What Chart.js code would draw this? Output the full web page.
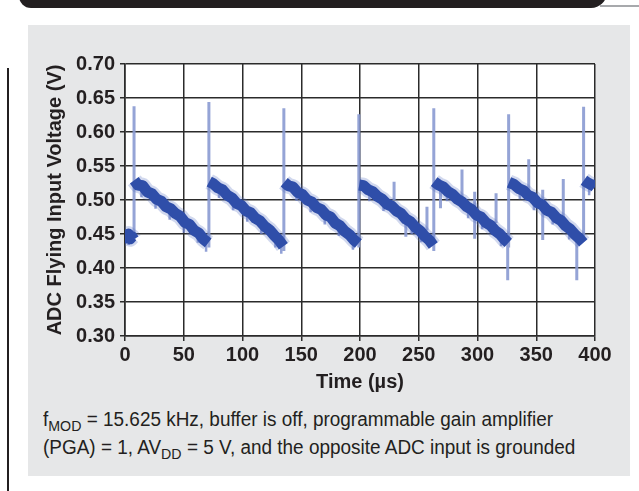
<!DOCTYPE html>
<html>
<head>
<meta charset="utf-8">
<script src="https://cdn.jsdelivr.net/npm/chart.js@4.4.1/dist/chart.umd.min.js"></script>
<style>
  body { margin: 0; background: #fff; width: 639px; height: 491px; overflow: hidden; position: relative; }
  #topbar { position: absolute; left: 19px; top: -30px; width: 588px; height: 38px; background: #231f20; border-radius: 0 0 16px 12px; }
  #topline { position: absolute; left: 600px; top: 5px; width: 39px; height: 2px; background: #a7a9ac; }
  #leftline { position: absolute; left: 7px; top: 68px; width: 2px; height: 423px; background: #231f20; }
  #panel { position: absolute; left: 28px; top: 25px; width: 602px; height: 451px; background: #e6e7e8; }
  #myChart { position: absolute; left: 28px; top: 25px; }
  #cap { position: absolute; left: 43px; top: 405px; font-family: 'Liberation Sans', Arial, sans-serif;
         font-size: 20px; line-height: 28px; color: #231f20; white-space: nowrap; transform-origin: 0 0; }
  #cap sub { font-size: 15px; vertical-align: -5px; line-height: 0; }
</style>
</head>
<body>
<div id="topbar"></div>
<div id="topline"></div>
<div id="leftline"></div>
<div id="panel"></div>
<canvas id="myChart" width="602" height="380"></canvas>
<div id="cap"><span id="cap1">f<sub>MOD</sub> = 15.625 kHz, buffer is off, programmable gain amplifier</span><br>(PGA) = 1, AV<sub>DD</sub> = 5 V, and the opposite ADC input is grounded</div>
<script>
// tiempo (us) y voltaje de la traza, null = corte entre rampas
var traceT = [
  0, 1.5, 3, 4.5, 6, 7.4, 7.6,
  7.9, 11, 15, 19, 23, 27, 31, 35, 39, 43, 47, 51, 55, 59, 63, 67, 70.8, 71,
  71.7, 75, 79, 83, 87, 91, 95, 99, 103, 107, 111, 115, 119, 123, 127, 131, 134.8, 135,
  135.5, 139, 143, 147, 151, 155, 159, 163, 167, 171, 175, 179, 183, 187, 191, 195, 198.6, 198.8,
  199.3, 203, 207, 211, 215, 219, 223, 227, 231, 235, 239, 243, 247, 251, 255, 259, 262.4, 262.6,
  263.1, 267, 271, 275, 279, 283, 287, 291, 295, 299, 303, 307, 311, 315, 319, 323, 326.2, 326.4,
  326.8, 331, 335, 339, 343, 347, 351, 355, 359, 363, 367, 371, 375, 379, 383, 387, 390, 390.2,
  390.6, 393, 396, 398, 400
];
var traceV = [
  0.447, 0.444, 0.450, 0.443, 0.446, 0.442, null,
  0.529, 0.522, 0.521, 0.512, 0.509, 0.501, 0.498, 0.490, 0.487, 0.480, 0.476, 0.467, 0.464, 0.455, 0.451, 0.442, 0.437, null,
  0.527, 0.524, 0.518, 0.515, 0.507, 0.503, 0.495, 0.492, 0.484, 0.481, 0.473, 0.469, 0.461, 0.456, 0.448, 0.441, 0.432, null,
  0.526, 0.521, 0.519, 0.511, 0.508, 0.500, 0.497, 0.489, 0.486, 0.478, 0.475, 0.466, 0.462, 0.454, 0.449, 0.441, 0.436, null,
  0.522, 0.521, 0.515, 0.512, 0.505, 0.501, 0.494, 0.491, 0.484, 0.480, 0.472, 0.468, 0.460, 0.455, 0.447, 0.441, 0.433, null,
  0.527, 0.522, 0.519, 0.512, 0.508, 0.501, 0.497, 0.490, 0.486, 0.478, 0.475, 0.467, 0.463, 0.455, 0.450, 0.442, 0.437, null,
  0.526, 0.523, 0.517, 0.514, 0.507, 0.504, 0.496, 0.493, 0.485, 0.482, 0.474, 0.470, 0.462, 0.457, 0.449, 0.443, 0.437, null,
  0.529, 0.526, 0.523, 0.522, 0.519
];

// picos (glitches): tiempo, inicio y fin
var spikeT    = [7.7, 71.4, 135.2, 199, 229, 239, 257, 262.8, 268.5, 286.8, 297.6, 315.8, 325.7, 326.5, 343.6, 355.5, 373, 384.5, 390.3];
var spikeFrom = [0.440, 0.430, 0.425, 0.430, 0.500, 0.470, 0.490, 0.425, 0.520, 0.500, 0.512, 0.510, 0.440, 0.430, 0.510, 0.515, 0.531, 0.455, 0.440];
var spikeTo   = [0.638, 0.644, 0.635, 0.626, 0.527, 0.446, 0.455, 0.635, 0.488, 0.545, 0.443, 0.466, 0.382, 0.626, 0.560, 0.441, 0.470, 0.382, 0.637];

// ruido corto alrededor de la banda
var noiseT    = [3, 14, 26, 38, 50, 62, 69, 80, 92, 104, 116, 128, 133, 146, 158, 170, 182, 194, 208, 220, 244, 252, 274, 292, 304, 320, 336, 348, 364, 378, 395];
var noiseFrom = [0.450, 0.521, 0.503, 0.488, 0.469, 0.452, 0.440, 0.518, 0.501, 0.484, 0.467, 0.446, 0.437, 0.514, 0.498, 0.481, 0.463, 0.443, 0.514, 0.500, 0.466, 0.454, 0.514, 0.489, 0.473, 0.448, 0.517, 0.501, 0.480, 0.458, 0.523];
var noiseTo   = [0.434, 0.504, 0.487, 0.471, 0.452, 0.437, 0.424, 0.503, 0.485, 0.468, 0.450, 0.430, 0.421, 0.499, 0.482, 0.464, 0.447, 0.427, 0.498, 0.484, 0.450, 0.438, 0.498, 0.473, 0.457, 0.432, 0.501, 0.485, 0.464, 0.442, 0.507];

var yTicks = [0.30, 0.35, 0.40, 0.45, 0.50, 0.55, 0.60, 0.65, 0.70];
var xTicks = [0, 50, 100, 150, 200, 250, 300, 350, 400];

// pie de figura: comprimir a lo ancho como la letra condensada
var cap = document.querySelector('#cap');
var w1 = document.querySelector('#cap1').getBoundingClientRect().width;
cap.style.transform = 'scaleX(' + (510 / w1) + ')';

var tracePts = traceT.map(function (t, i) { return { x: t, y: traceV[i] }; });
function strokes(ts, from, to) {
  var pts = [];
  ts.forEach(function (t, i) {
    pts.push({ x: t, y: from[i] });
    pts.push({ x: t, y: to[i] });
    pts.push({ x: t, y: null });
  });
  return pts;
}
var spikePts = strokes(spikeT, spikeFrom, spikeTo);
var noisePts = strokes(noiseT, noiseFrom, noiseTo);

var plotBg = {
  id: 'plotBg',
  beforeDraw: function (chart) {
    var a = chart.chartArea, ctx = chart.ctx;
    ctx.save();
    ctx.fillStyle = '#ffffff';
    ctx.fillRect(a.left, a.top, a.right - a.left, a.bottom - a.top);
    ctx.restore();
  }
};

var tickFont = { family: "'Liberation Sans', Arial, sans-serif", size: 20, weight: 'bold' };

var ctx = document.getElementById('myChart').getContext('2d');
var chart = new Chart(ctx, {
  type: 'scatter',
  data: {
    datasets: [
      { data: tracePts, showLine: true, borderColor: '#2f4ea9', borderWidth: 11, pointRadius: 0,
        borderJoinStyle: 'round', borderCapStyle: 'butt', spanGaps: false, order: 1 },
      { data: tracePts, showLine: true, borderColor: 'rgba(90,115,195,0.28)', borderWidth: 16, pointRadius: 0,
        borderJoinStyle: 'round', spanGaps: false, order: 2 },
      { data: noisePts, showLine: true, borderColor: 'rgba(110,130,200,0.75)', borderWidth: 2.5, pointRadius: 0,
        spanGaps: false, order: 3 },
      { data: spikePts, showLine: true, borderColor: 'rgba(138,154,210,0.9)', borderWidth: 3, pointRadius: 0,
        spanGaps: false, order: 4 }
    ]
  },
  options: {
    responsive: false,
    animation: false,
    devicePixelRatio: 1,
    layout: { padding: { top: 39, right: 35, left: 0, bottom: 0 } },
    plugins: { legend: { display: false }, tooltip: { enabled: false } },
    scales: {
      x: {
        type: 'linear', min: 0, max: 400,
        afterFit: function (s) { s.height = 69; },
        afterBuildTicks: function (s) { s.ticks = xTicks.map(function (v) { return { value: v }; }); },
        grid: { color: '#2b2b2b', lineWidth: 1.5, tickLength: 5, drawTicks: true },
        border: { color: '#2b2b2b', width: 1.6 },
        ticks: { color: '#231f20', font: tickFont, padding: 2, maxRotation: 0 },
        title: { display: true, text: 'Time (µs)', color: '#231f20', font: tickFont, padding: { top: 0, bottom: 11 } }
      },
      y: {
        min: 0.3, max: 0.7,
        afterFit: function (s) { s.width = 97; },
        afterBuildTicks: function (s) { s.ticks = yTicks.map(function (v) { return { value: v }; }); },
        grid: { color: '#2b2b2b', lineWidth: 1.5, tickLength: 5, drawTicks: true },
        border: { color: '#2b2b2b', width: 1.6 },
        ticks: { color: '#231f20', font: tickFont, padding: 5, callback: function (v) { return v.toFixed(2); } },
        title: { display: true, text: 'ADC Flying Input Voltage (V)', color: '#231f20',
                 font: { family: "'Liberation Sans', Arial, sans-serif", size: 20, weight: 'bold' }, padding: { top: 15, bottom: 0 } }
      }
    }
  },
  plugins: [plotBg]
});
</script>
</body>
</html>
